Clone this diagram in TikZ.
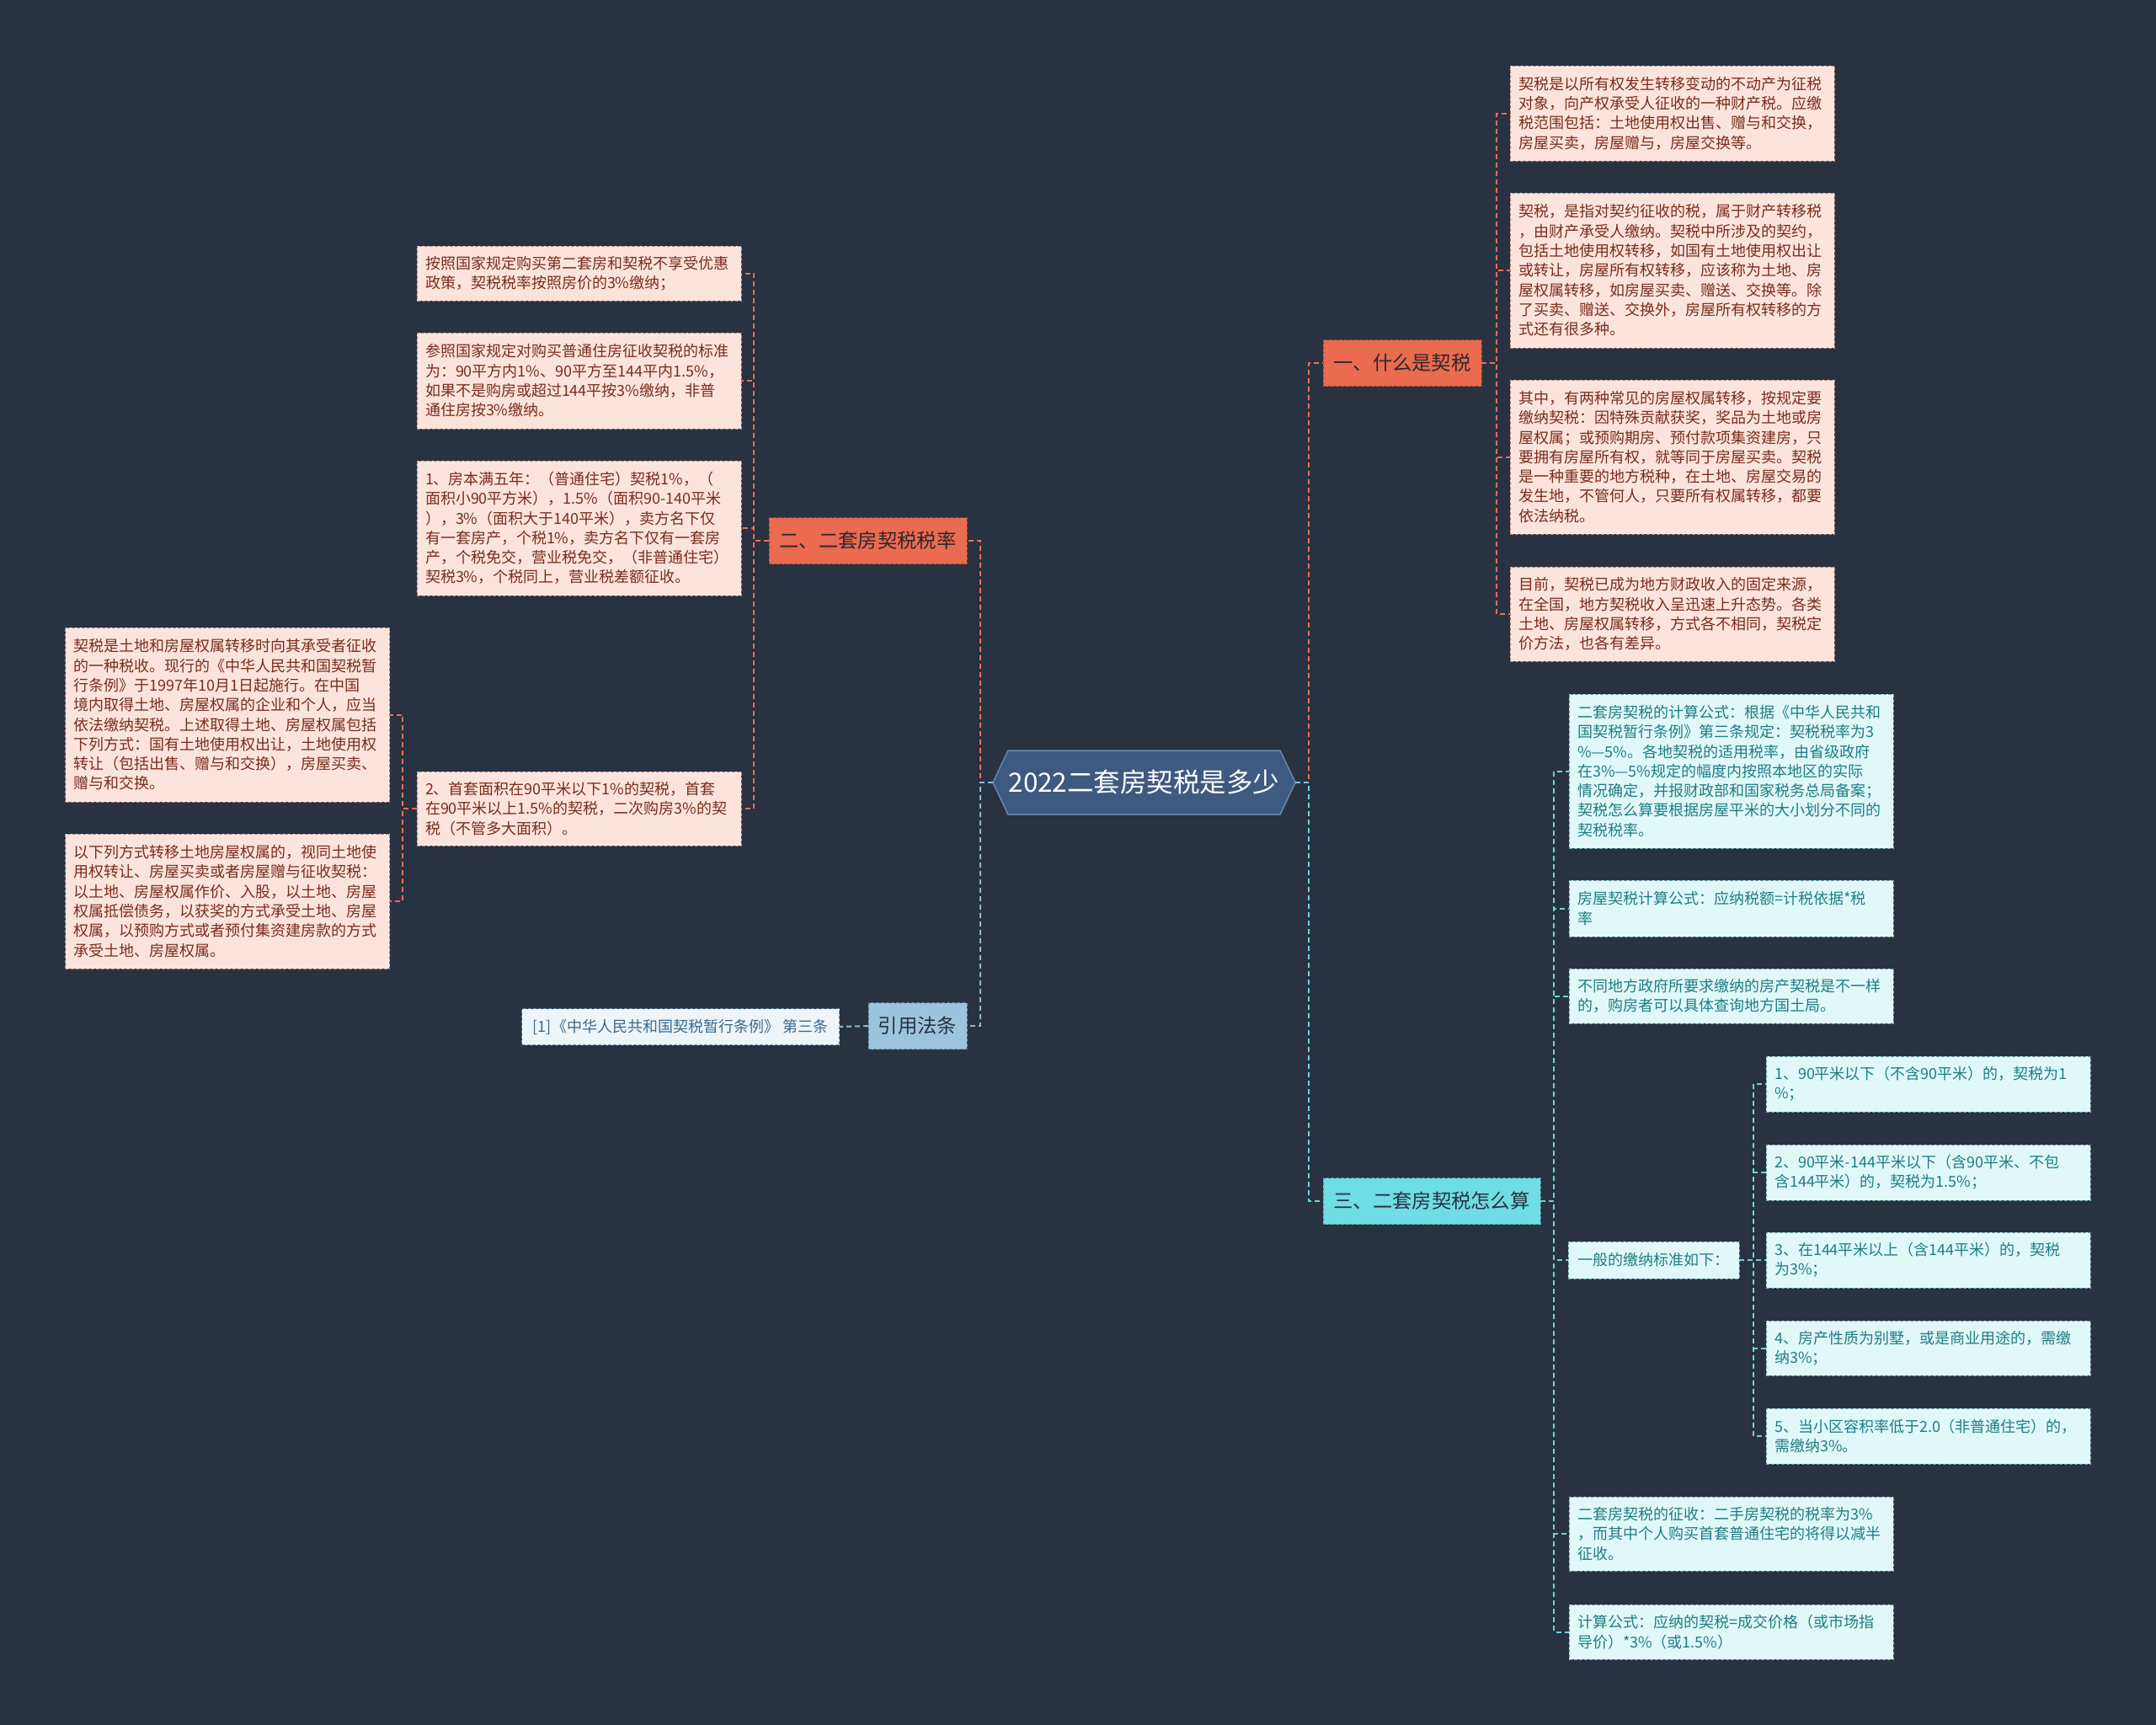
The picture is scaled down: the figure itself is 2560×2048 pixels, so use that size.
\documentclass[tikz,border=0pt]{standalone}
\usepackage{fontspec}
\setmainfont{Noto Sans CJK SC}
\definecolor{bgc}{RGB}{41,50,65}
\definecolor{pinkfill}{RGB}{252,228,220}
\definecolor{pinktext}{RGB}{122,44,28}
\definecolor{pinkborder}{RGB}{168,138,130}
\definecolor{orangefill}{RGB}{234,107,80}
\definecolor{orangeborder}{RGB}{160,70,50}
\definecolor{orangeline}{RGB}{233,112,80}
\definecolor{darktext}{RGB}{45,40,45}
\definecolor{cyanfill}{RGB}{110,221,228}
\definecolor{cyanborder}{RGB}{70,150,160}
\definecolor{cyanline}{RGB}{108,211,220}
\definecolor{cyanleaf}{RGB}{225,248,249}
\definecolor{cyantext}{RGB}{30,125,132}
\definecolor{cyanleafborder}{RGB}{110,160,165}
\definecolor{bluefill}{RGB}{156,196,220}
\definecolor{blueborder}{RGB}{100,140,170}
\definecolor{blueline}{RGB}{140,185,214}
\definecolor{citefill}{RGB}{238,245,249}
\definecolor{citetext}{RGB}{58,106,140}
\definecolor{navytext}{RGB}{40,49,66}
\definecolor{centerfill}{RGB}{62,90,128}
\definecolor{centerborder}{RGB}{105,135,175}
\begin{document}
\begin{tikzpicture}[x=1pt,y=-1pt,
  every node/.style={inner sep=0pt,outer sep=0pt},
  leafbase/.style={rectangle,draw,dash pattern=on 4pt off 2pt,line width=1pt,
    align=left,text width=365pt,inner xsep=10pt,minimum height=#1,
    font=\fontsize{18}{23.3}\selectfont},
  pinkleaf/.style={leafbase=#1,fill=pinkfill,draw=pinkborder,text=pinktext},
  cyanleafbox/.style={leafbase=#1,fill=cyanleaf,draw=cyanleafborder,text=cyantext},
  branchbase/.style={rectangle,draw,dash pattern=on 4pt off 2pt,line width=1pt,
    minimum width=#1,minimum height=55pt,font=\fontsize{23.3}{28}\selectfont},
  orangebranch/.style={branchbase=#1,fill=orangefill,draw=orangeborder,text=darktext},
  cyanbranch/.style={branchbase=#1,fill=cyanfill,draw=cyanborder,text=navytext},
  bluebranch/.style={branchbase=#1,fill=bluefill,draw=blueborder,text=navytext},
  conn/.style={line width=2pt,dash pattern=on 6pt off 4pt},
  oline/.style={conn,draw=orangeline},
  cline/.style={conn,draw=cyanline},
  bline/.style={conn,draw=blueline}]
\fill[bgc] (0,0) rectangle (2560,2048);
\useasboundingbox (0,0) rectangle (2560,2048);

% center hexagon
\filldraw[fill=centerfill,draw=centerborder,line width=1.5pt]
  (1179,929) -- (1197,891) -- (1520,891) -- (1538,929) -- (1520,967) -- (1197,967) -- cycle;
\node[minimum width=359pt,minimum height=76pt,text=white,font=\fontsize{31.5}{38}\selectfont] (c) at (1358.5,929) {2022二套房契税是多少};

% branches
\node[orangebranch=188pt] (b1) at (1665,431) {一、什么是契税};
\node[orangebranch=235pt] (b2) at (1030.5,642) {二、二套房契税税率};
\node[bluebranch=117pt] (b4) at (1089.5,1218) {引用法条};
\node[cyanbranch=258pt] (b3) at (1700,1426) {三、二套房契税怎么算};

% branch 1 leaves
\node[pinkleaf=113pt] (r1) at (1985.5,134.5) {契税是以所有权发生转移变动的不动产为征税\\对象，向产权承受人征收的一种财产税。应缴\\税范围包括：土地使用权出售、赠与和交换，\\房屋买卖，房屋赠与，房屋交换等。};
\node[pinkleaf=184pt] (r2) at (1985.5,321) {契税，是指对契约征收的税，属于财产转移税\\，由财产承受人缴纳。契税中所涉及的契约，\\包括土地使用权转移，如国有土地使用权出让\\或转让，房屋所有权转移，应该称为土地、房\\屋权属转移，如房屋买卖、赠送、交换等。除\\了买卖、赠送、交换外，房屋所有权转移的方\\式还有很多种。};
\node[pinkleaf=183pt] (r3) at (1985.5,542.5) {其中，有两种常见的房屋权属转移，按规定要\\缴纳契税：因特殊贡献获奖，奖品为土地或房\\屋权属；或预购期房、预付款项集资建房，只\\要拥有房屋所有权，就等同于房屋买卖。契税\\是一种重要的地方税种，在土地、房屋交易的\\发生地，不管何人，只要所有权属转移，都要\\依法纳税。};
\node[pinkleaf=112pt] (r4) at (1985.5,729) {目前，契税已成为地方财政收入的固定来源，\\在全国，地方契税收入呈迅速上升态势。各类\\土地、房屋权属转移，方式各不相同，契税定\\价方法，也各有差异。};

% branch 2 leaves
\node[pinkleaf=65pt] (l1) at (687.5,324.5) {按照国家规定购买第二套房和契税不享受优惠\\政策，契税税率按照房价的3\%缴纳；};
\node[pinkleaf=114pt] (l2) at (687.5,452) {参照国家规定对购买普通住房征收契税的标准\\为：90平方内1\%、90平方至144平内1.5\%，\\如果不是购房或超过144平按3\%缴纳，非普\\通住房按3\%缴纳。};
\node[pinkleaf=160pt] (l3) at (687.5,627) {1、房本满五年：（普通住宅）契税1\%，（\\面积小90平方米），1.5\%（面积90-140平米\\），3\%（面积大于140平米），卖方名下仅\\有一套房产，个税1\%，卖方名下仅有一套房\\产，个税免交，营业税免交，（非普通住宅）\\契税3\%，个税同上，营业税差额征收。};
\node[pinkleaf=88pt] (l4) at (687.5,960) {2、首套面积在90平米以下1\%的契税，首套\\在90平米以上1.5\%的契税，二次购房3\%的契\\税（不管多大面积）。};
\node[pinkleaf=207pt] (l5) at (270,848.5) {契税是土地和房屋权属转移时向其承受者征收\\的一种税收。现行的《中华人民共和国契税暂\\行条例》于1997年10月1日起施行。在中国\\境内取得土地、房屋权属的企业和个人，应当\\依法缴纳契税。上述取得土地、房屋权属包括\\下列方式：国有土地使用权出让，土地使用权\\转让（包括出售、赠与和交换），房屋买卖、\\赠与和交换。};
\node[pinkleaf=160pt] (l6) at (270,1070) {以下列方式转移土地房屋权属的，视同土地使\\用权转让、房屋买卖或者房屋赠与征收契税：\\以土地、房屋权属作价、入股，以土地、房屋\\权属抵偿债务，以获奖的方式承受土地、房屋\\权属，以预购方式或者预付集资建房款的方式\\承受土地、房屋权属。};

% citation
\node[rectangle,draw=blueborder,dash pattern=on 4pt off 2pt,line width=1pt,fill=citefill,text=citetext,
  minimum width=377pt,minimum height=43pt,font=\fontsize{18}{23.3}\selectfont] (cite) at (808,1219) {[1]《中华人民共和国契税暂行条例》 第三条};

% branch 3 leaves
\node[cyanleafbox=183pt] (k1) at (2055.5,915.5) {二套房契税的计算公式：根据《中华人民共和\\国契税暂行条例》第三条规定：契税税率为3\\\%—5\%。各地契税的适用税率，由省级政府\\在3\%—5\%规定的幅度内按照本地区的实际\\情况确定，并报财政部和国家税务总局备案；\\契税怎么算要根据房屋平米的大小划分不同的\\契税税率。};
\node[cyanleafbox=67pt] (k2) at (2055.5,1078.5) {房屋契税计算公式：应纳税额=计税依据*税\\率};
\node[cyanleafbox=65pt] (k3) at (2055.5,1182.5) {不同地方政府所要求缴纳的房产契税是不一样\\的，购房者可以具体查询地方国土局。};
\node[rectangle,draw=cyanleafborder,dash pattern=on 4pt off 2pt,line width=1pt,fill=cyanleaf,text=cyantext,
  minimum width=203pt,minimum height=44pt,font=\fontsize{18}{23.3}\selectfont] (k4) at (1963.5,1496) {一般的缴纳标准如下：};
\node[cyanleafbox=88pt] (k5) at (2055.5,1821) {二套房契税的征收：二手房契税的税率为3\%\\，而其中个人购买首套普通住宅的将得以减半\\征收。};
\node[cyanleafbox=65pt] (k6) at (2055.5,1937.5) {计算公式：应纳的契税=成交价格（或市场指\\导价）*3\%（或1.5\%）};

\node[cyanleafbox=66pt] (n1) at (2289.5,1287) {1、90平米以下（不含90平米）的，契税为1\\\%；};
\node[cyanleafbox=66pt] (n2) at (2289.5,1392) {2、90平米-144平米以下（含90平米、不包\\含144平米）的，契税为1.5\%；};
\node[cyanleafbox=66pt] (n3) at (2289.5,1496) {3、在144平米以上（含144平米）的，契税\\为3\%；};
\node[cyanleafbox=65pt] (n4) at (2289.5,1600.5) {4、房产性质为别墅，或是商业用途的，需缴\\纳3\%；};
\node[cyanleafbox=66pt] (n5) at (2289.5,1705) {5、当小区容积率低于2.0（非普通住宅）的，\\需缴纳3\%。};

% connectors: center to branches
\draw[oline] (c.east) -- ++(16,0) |- (b1.west);
\draw[cline] (c.east) -- ++(16,0) |- (b3.west);
\draw[oline] (c.west) -- ++(-15,0) |- (b2.east);
\draw[bline] (c.west) -- ++(-15,0) |- (b4.east);

% branch 1
\foreach \t in {r1,r2,r3,r4} \draw[oline] (b1.east) -- ++(18,0) |- (\t.west);
% branch 2
\foreach \t in {l1,l2,l3,l4} \draw[oline] (b2.west) -- ++(-18,0) |- (\t.east);
\foreach \t in {l5,l6} \draw[oline] (l4.west) -- ++(-17,0) |- (\t.east);
% citation
\draw[bline] (b4.west) -- (cite.east);
% branch 3
\foreach \t in {k1,k2,k3,k4,k5,k6} \draw[cline] (b3.east) -- ++(16,0) |- (\t.west);
\foreach \t in {n1,n2,n3,n4,n5} \draw[cline] (k4.east) -- ++(17,0) |- (\t.west);
\end{tikzpicture}
\end{document}
